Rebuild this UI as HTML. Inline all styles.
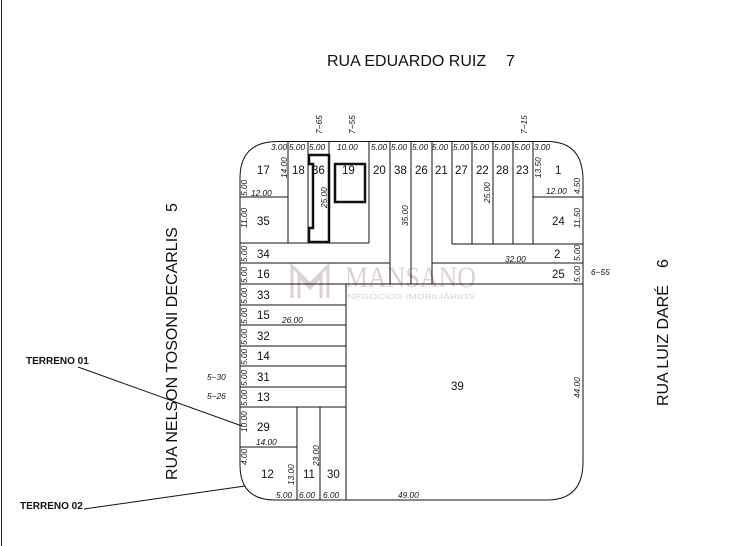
<!DOCTYPE html>
<html><head><meta charset="utf-8"><style>
html,body{margin:0;padding:0;background:#fff;}
svg{display:block;font-family:"Liberation Sans",sans-serif;}
.n{font-size:11.5px;fill:#111;}
.d{font-size:8.3px;font-style:italic;fill:#111;}
</style></head><body>
<svg width="748" height="546" viewBox="0 0 748 546" xmlns="http://www.w3.org/2000/svg">
<rect width="748" height="546" fill="#fff"/>
<line x1="1.5" y1="0" x2="1.5" y2="546" stroke="#222" stroke-width="1"/>
<!-- watermark -->
<g opacity="0.35" fill="#a07d7d">
<text x="345" y="287" font-family="Liberation Serif,serif" font-size="30" textLength="131" lengthAdjust="spacingAndGlyphs">MANSANO</text>
<text x="347" y="299" font-size="7" textLength="128" lengthAdjust="spacingAndGlyphs">NEGÓCIOS IMOBILIÁRIOS</text>
<path d="M292 298 V266 L310 284 L328 266 V298 M299 298 V276 L310 288 L321 276 V298" fill="none" stroke="#a07d7d" stroke-width="3"/>
</g>
<g fill="none" stroke="#111" stroke-width="1">
<path d="M278 141.5 H547 Q583 141.5 583 180 V462 Q583 500 547 500 H275 Q240 500 240 465 V178 Q240 141.5 278 141.5 Z"/>
<line x1="288" y1="141.5" x2="288" y2="243"/>
<line x1="308" y1="141.5" x2="308" y2="243"/>
<line x1="329" y1="141.5" x2="329" y2="243"/>
<line x1="369" y1="141.5" x2="369" y2="243"/>
<line x1="390" y1="141.5" x2="390" y2="284"/>
<line x1="411" y1="141.5" x2="411" y2="284"/>
<line x1="432" y1="141.5" x2="432" y2="284"/>
<line x1="452" y1="141.5" x2="452" y2="244"/>
<line x1="472" y1="141.5" x2="472" y2="244"/>
<line x1="493" y1="141.5" x2="493" y2="244"/>
<line x1="513" y1="141.5" x2="513" y2="244"/>
<line x1="533" y1="141.5" x2="533" y2="244"/>
<line x1="240" y1="197" x2="288" y2="197"/>
<line x1="240" y1="243" x2="369" y2="243"/>
<line x1="240" y1="263" x2="390" y2="263"/>
<line x1="533" y1="197" x2="583" y2="197"/>
<line x1="452" y1="244" x2="583" y2="244"/>
<line x1="432" y1="263" x2="583" y2="263"/>
<line x1="240" y1="284" x2="583" y2="284"/>
<line x1="240" y1="305" x2="346" y2="305"/>
<line x1="240" y1="325" x2="346" y2="325"/>
<line x1="240" y1="346" x2="346" y2="346"/>
<line x1="240" y1="366" x2="346" y2="366"/>
<line x1="240" y1="387" x2="346" y2="387"/>
<line x1="240" y1="407" x2="346" y2="407"/>
<line x1="240" y1="447" x2="297" y2="447"/>
<line x1="346" y1="284" x2="346" y2="500"/>
<line x1="297" y1="407" x2="297" y2="500"/>
<line x1="320" y1="407" x2="320" y2="500"/>
<path d="M309 155 H329 V242 H309 V228 H313 V164 H309 Z" stroke-width="2.5"/>
<rect x="335" y="164" width="30" height="38" stroke-width="2.5"/>
<line x1="78" y1="367" x2="242" y2="426"/>
<line x1="84" y1="509" x2="245" y2="486"/>
</g>
<text x="327" y="66" font-size="16" fill="#111">RUA EDUARDO RUIZ</text>
<text x="506" y="66" font-size="16" fill="#111">7</text>
<text transform="translate(177,480) rotate(-90)" font-size="16" fill="#111">RUA NELSON TOSONI DECARLIS</text>
<text transform="translate(177,212) rotate(-90)" font-size="16" fill="#111">5</text>
<text transform="translate(668,406) rotate(-90)" font-size="16" fill="#111">RUA LUIZ DARÉ</text>
<text transform="translate(668,268) rotate(-90)" font-size="16" fill="#111">6</text>
<text x="26" y="364" font-size="10" font-weight="bold" fill="#111">TERRENO 01</text>
<text x="20" y="509" font-size="10" font-weight="bold" fill="#111">TERRENO 02</text>
<g class="n">
<text x="257" y="174">17</text><text x="292" y="174">18</text><text x="312" y="174">36</text>
<text x="342" y="174">19</text><text x="373" y="174">20</text><text x="394" y="174">38</text>
<text x="415" y="174">26</text><text x="435" y="174">21</text><text x="455" y="174">27</text>
<text x="476" y="174">22</text><text x="496" y="174">28</text><text x="516" y="174">23</text>
<text x="555" y="174">1</text><text x="257" y="225">35</text><text x="552" y="225">24</text>
<text x="257" y="258">34</text><text x="554" y="258">2</text>
<text x="257" y="278">16</text><text x="552" y="278">25</text>
<text x="257" y="299">33</text><text x="257" y="319">15</text><text x="257" y="340">32</text>
<text x="257" y="360">14</text><text x="257" y="381">31</text><text x="257" y="401">13</text>
<text x="257" y="431">29</text><text x="261" y="478">12</text><text x="303" y="478">11</text>
<text x="327" y="478">30</text><text x="451" y="390">39</text>
</g>
<g class="d">
<text x="271" y="150">3.00</text><text x="289" y="150">5.00</text><text x="309" y="150">5.00</text>
<text x="337" y="150">10.00</text>
<text x="371" y="150">5.00</text><text x="391" y="150">5.00</text><text x="412" y="150">5.00</text>
<text x="432" y="150">5.00</text><text x="453" y="150">5.00</text><text x="473" y="150">5.00</text>
<text x="494" y="150">5.00</text><text x="514" y="150">5.00</text><text x="534" y="150">3.00</text>
<text x="251" y="196">12.00</text><text x="546" y="194">12.00</text><text x="505" y="262">32.00</text>
<text x="282" y="323">26.00</text><text x="256" y="445">14.00</text>
<text x="276" y="498">5.00</text><text x="299" y="498">6.00</text><text x="323" y="498">6.00</text>
<text x="398" y="498">49.00</text>
<text x="207" y="380">5−30</text><text x="207" y="399">5−26</text><text x="591" y="275">6−55</text>
<text transform="translate(322,134) rotate(-90)">7−65</text>
<text transform="translate(355,134) rotate(-90)">7−55</text>
<text transform="translate(527,134) rotate(-90)">7−15</text>
<text transform="translate(247,196) rotate(-90)">5.00</text>
<text transform="translate(287,178) rotate(-90)">14.00</text>
<text transform="translate(327,208) rotate(-90)">25.00</text>
<text transform="translate(408,226) rotate(-90)">35.00</text>
<text transform="translate(490,203) rotate(-90)">25.00</text>
<text transform="translate(541,178) rotate(-90)">13.50</text>
<text transform="translate(580,194) rotate(-90)">4.50</text>
<text transform="translate(247,228) rotate(-90)">11.00</text>
<text transform="translate(580,228) rotate(-90)">11.50</text>
<text transform="translate(580,261) rotate(-90)">5.00</text>
<text transform="translate(580,282) rotate(-90)">5.00</text>
<text transform="translate(580,398) rotate(-90)">44.00</text>
<text transform="translate(247,262) rotate(-90)">5.00</text>
<text transform="translate(247,283) rotate(-90)">5.00</text>
<text transform="translate(247,304) rotate(-90)">5.00</text>
<text transform="translate(247,324) rotate(-90)">5.00</text>
<text transform="translate(247,345) rotate(-90)">5.00</text>
<text transform="translate(247,365) rotate(-90)">5.00</text>
<text transform="translate(247,386) rotate(-90)">5.00</text>
<text transform="translate(247,406) rotate(-90)">5.00</text>
<text transform="translate(247,432) rotate(-90)">10.00</text>
<text transform="translate(247,465) rotate(-90)">4.00</text>
<text transform="translate(294,485) rotate(-90)">13.00</text>
<text transform="translate(319,466) rotate(-90)">23.00</text>
</g>
</svg>
</body></html>
